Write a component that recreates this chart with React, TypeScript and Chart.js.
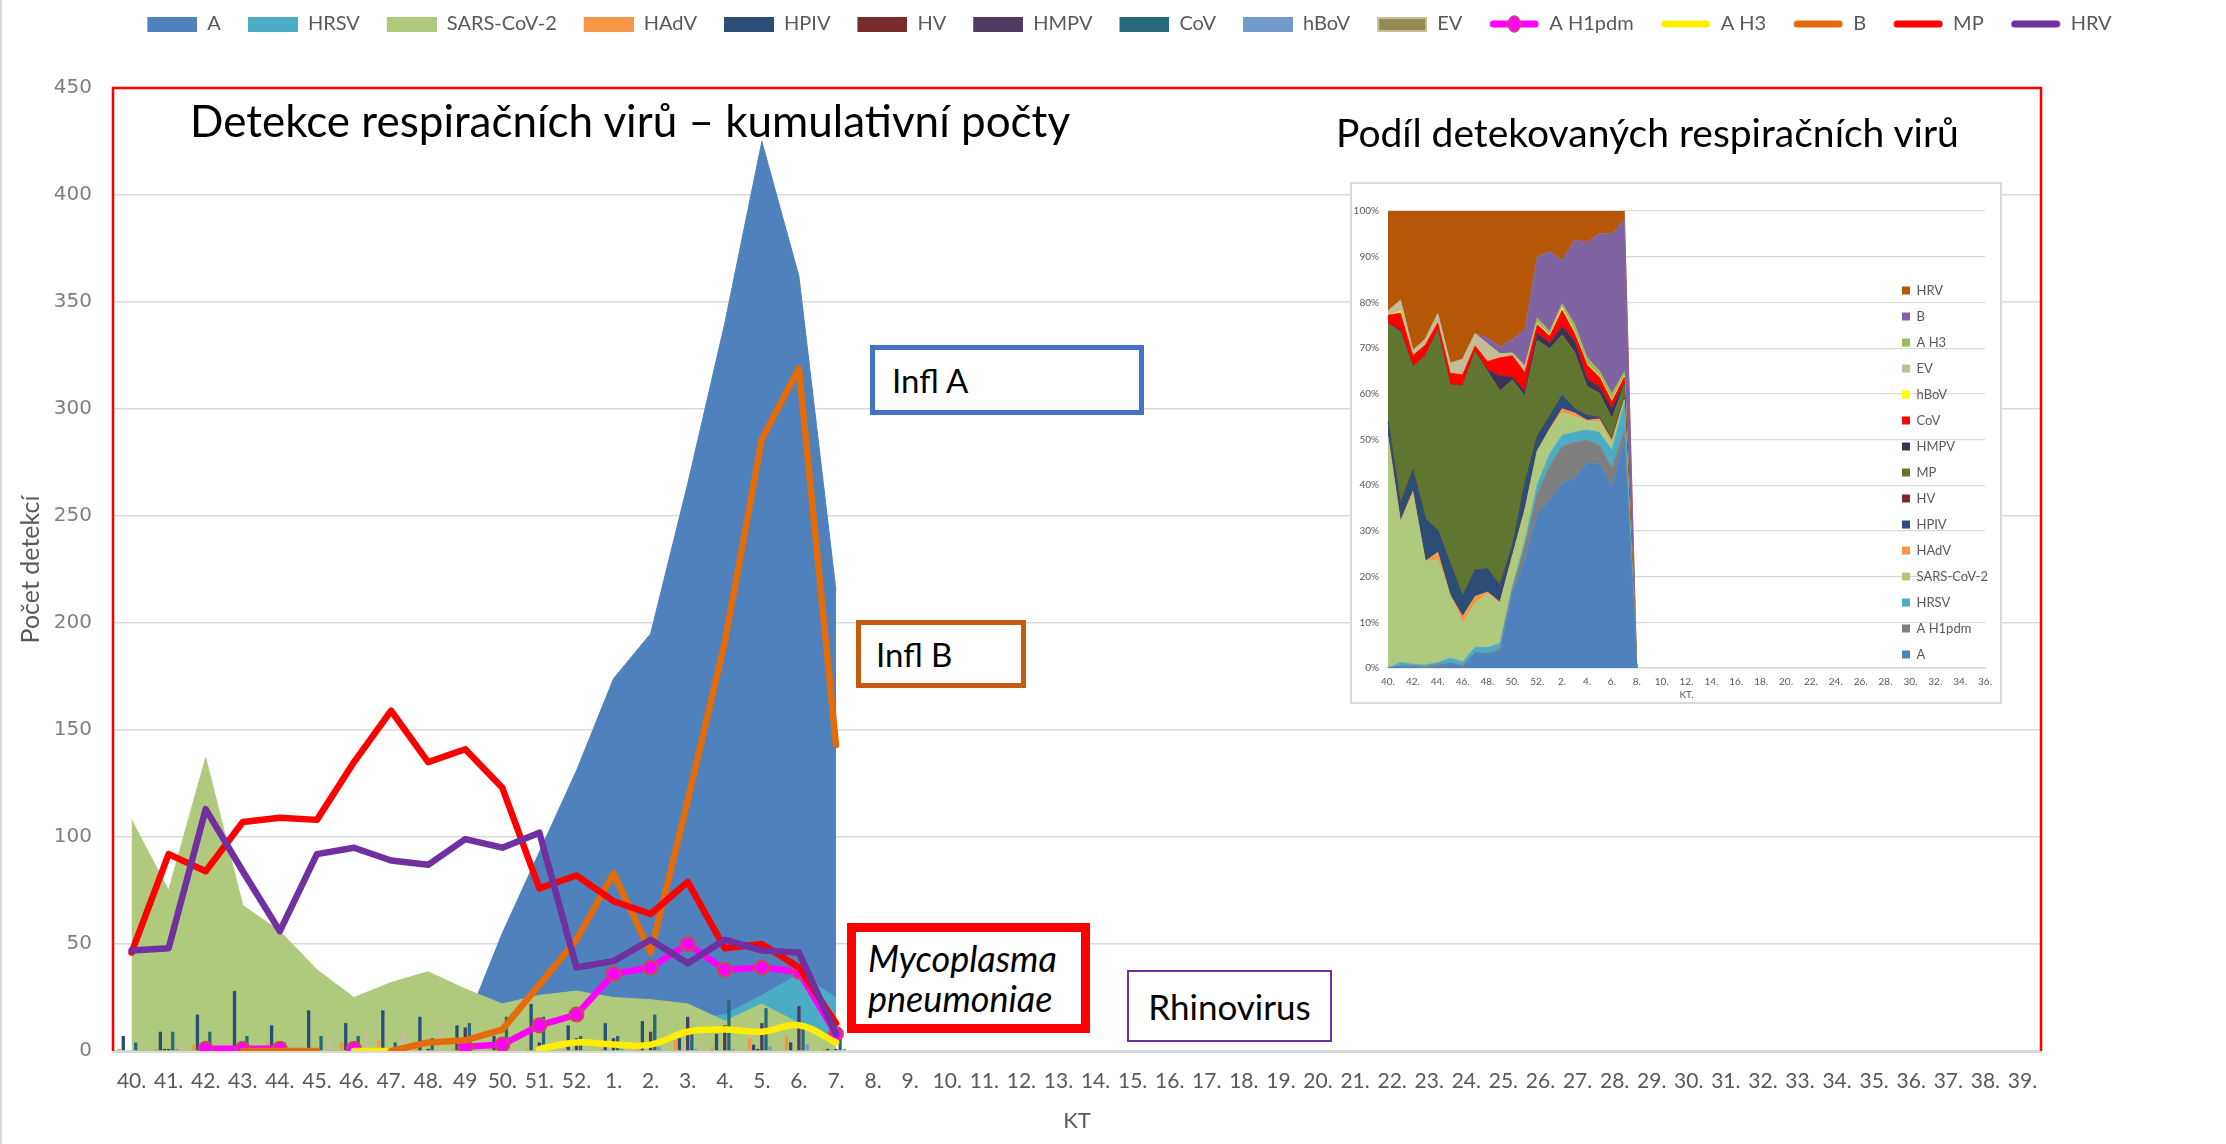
import React, { useEffect, useRef } from 'react';
import { Chart, registerables } from 'chart.js';

Chart.register(...registerables);

// ---------- Main chart data (weeks 40 .. 7 carry values) ----------
const weekLabels = [
  '40.', '41.', '42.', '43.', '44.', '45.', '46.', '47.', '48.', '49', '50.', '51.', '52.',
  '1.', '2.', '3.', '4.', '5.', '6.', '7.', '8.', '9.', '10.', '11.', '12.', '13.', '14.', '15.',
  '16.', '17.', '18.', '19.', '20.', '21.', '22.', '23.', '24.', '25.', '26.', '27.', '28.', '29.',
  '30.', '31.', '32.', '33.', '34.', '35.', '36.', '37.', '38.', '39.',
];

const valA = [0, 1, 1, 0, 1, 3, 1, 11, 10, 12, 55, 93, 131, 174, 195, 265, 340, 425, 362, 215];
const valHRSV = [0, 2, 1, 1, 1, 3, 2, 4, 4, 4, 2, 4, 8, 12, 12, 14, 17, 26, 36, 25];
const valSARS = [108, 75, 137, 68, 56, 38, 25, 32, 37, 29, 22, 26, 28, 25, 24, 22, 14, 22, 13, 3];
const valHAdV = [1, 1, 3, 0, 4, 0, 4, 5, 1, 1, 1, 1, 1, 1, 4, 5, 2, 6, 7, 1];
const valHPIV = [7, 9, 17, 28, 12, 19, 13, 19, 16, 12, 7, 22, 12, 13, 14, 6, 8, 3, 4, 1];
const valHV = [0, 1, 0, 0, 0, 0, 0, 0, 0, 1, 0, 0, 0, 0, 0, 0, 0, 1, 0, 0];
const valHMPV = [0, 1, 0, 0, 0, 0, 0, 0, 1, 11, 2, 4, 6, 6, 9, 16, 12, 13, 21, 1];
const valCoV = [4, 9, 9, 7, 4, 7, 7, 4, 6, 13, 16, 16, 7, 7, 17, 10, 24, 20, 13, 6];
const valHBoV = [0, 1, 0, 0, 0, 0, 0, 0, 0, 0, 0, 0, 0, 1, 2, 1, 1, 2, 3, 1];
const valEV = [2, 6, 4, 4, 5, 6, 10, 9, 12, 3, 2, 5, 2, 1, 2, 3, 1, 2, 1, 0];
const valAH1 = [null, null, 1, 1, 1, null, 1, null, null, 2, 3, 12, 17, 36, 39, 50, 38, 39, 37, 8];
const valAH3 = [null, null, null, null, null, null, 0, 0, null, null, null, 1, 4, 3, 3, 9, 10, 9, 12, 4];
const valB = [null, null, null, 0, 0, 0, null, 0, 4, 5, 10, 31, 52, 83, 46, 117, 191, 286, 319, 143];
const valMP = [46, 92, 84, 107, 109, 108, 135, 159, 135, 141, 123, 76, 82, 70, 64, 79, 48, 50, 39, 13];
const valHRV = [47, 48, 113, 84, 56, 92, 95, 89, 87, 99, 95, 102, 39, 42, 52, 41, 52, 47, 46, 8];

const yTicks = [0, 50, 100, 150, 200, 250, 300, 350, 400, 450];

// ---------- Inset (100 % stacked) ----------
const insetLabels = [
  '40.', '41.', '42.', '43.', '44.', '45.', '46.', '47.', '48.', '49.', '50.', '51.', '52.',
  '1.', '2.', '3.', '4.', '5.', '6.', '7.', '8.', '9.', '10.', '11.', '12.', '13.', '14.', '15.',
  '16.', '17.', '18.', '19.', '20.', '21.', '22.', '23.', '24.', '25.', '26.', '27.', '28.', '29.',
  '30.', '31.', '32.', '33.', '34.', '35.', '36.',
];
const insetNames = ['A', 'A H1pdm', 'HRSV', 'SARS-CoV-2', 'HAdV', 'HPIV', 'HV', 'MP', 'HMPV', 'CoV', 'hBoV', 'EV', 'A H3', 'B', 'HRV'];
const insetColors = ['#4F81BD', '#7F7F7F', '#4BACC6', '#AFC97D', '#F79646', '#2C4D75', '#772C2A', '#5F7530', '#3F3151', '#FF0000', '#FFFF00', '#C4BD97', '#9BBB59', '#8064A2', '#B65708'];
const insetSource = [valA, valAH1, valHRSV, valSARS, valHAdV, valHPIV, valHV, valMP, valHMPV, valCoV, valHBoV, valEV, valAH3, valB, valHRV];

const FONT = 'Lato';

function makeIcon(kind: 'box' | 'line' | 'marker', color: string, border?: string) {
  const c = document.createElement('canvas');
  c.width = 67;
  c.height = 20;
  const g = c.getContext('2d')!;
  if (kind === 'box') {
    g.fillStyle = color;
    g.fillRect(17, 3, 50, 15);
    if (border) {
      g.strokeStyle = border;
      g.lineWidth = 2;
      g.strokeRect(18, 4, 48, 13);
    }
  } else {
    g.strokeStyle = color;
    g.lineWidth = 7;
    g.lineCap = 'round';
    g.beginPath();
    g.moveTo(21, 10);
    g.lineTo(63, 10);
    g.stroke();
    if (kind === 'marker') {
      g.beginPath();
      g.ellipse(42, 10, 6, 8, 0, 0, Math.PI * 2);
      g.fillStyle = color;
      g.fill();
      g.lineWidth = 1.5;
      g.strokeStyle = border || '#C0504D';
      g.stroke();
    }
  }
  return c;
}

function buildMain(): any {
  const area = (label: string, data: any[], color: string, order: number) => ({
    type: 'line', label, data, order, backgroundColor: color, borderColor: color, borderWidth: 1,
    fill: 'origin', pointRadius: 0, tension: 0, _icon: makeIcon('box', color),
  });
  const bar = (label: string, data: any[], color: string, icon?: HTMLCanvasElement) => ({
    type: 'bar', label, data, order: 10, backgroundColor: color, borderWidth: 0,
    categoryPercentage: 0.78, barPercentage: 0.8, _icon: icon || makeIcon('box', color),
  });
  const line = (label: string, data: any[], color: string, order: number, extra: any = {}) => ({
    type: 'line', label, data, order, borderColor: color, backgroundColor: color, borderWidth: 6.5,
    fill: false, pointRadius: 0, tension: 0, borderCapStyle: 'round', borderJoinStyle: 'round',
    _icon: makeIcon(extra.pointRadius ? 'marker' : 'line', color), ...extra,
  });

  const datasets = [
    area('A', valA, '#4F81BD', 30),
    area('HRSV', valHRSV, '#4BACC6', 29),
    area('SARS-CoV-2', valSARS, '#AFC97D', 28),
    bar('HAdV', valHAdV, '#F79646'),
    bar('HPIV', valHPIV, '#2C4D75'),
    bar('HV', valHV, '#772C2A'),
    bar('HMPV', valHMPV, '#4D3B62'),
    bar('CoV', valCoV, '#276A7C'),
    bar('hBoV', valHBoV, '#729ACA'),
    bar('EV', valEV, '#C4BD97', makeIcon('box', '#948A54', '#C4BD97')),
    line('A H1pdm', valAH1, '#FF00FF', 5, {
      pointRadius: 7, pointBackgroundColor: '#FF00FF', pointBorderColor: '#C0504D', pointBorderWidth: 2,
    }),
    line('A H3', valAH3, '#FFEE00', 4, { tension: 0.4 }),
    line('B', valB, '#E36C09', 3),
    line('MP', valMP, '#FF0000', 2),
    line('HRV', valHRV, '#7030A0', 1),
  ];

  const tweaks = {
    id: 'mainTweaks',
    afterInit(chart: any) {
      const lg = chart.legend;
      const orig = lg.fit.bind(lg);
      lg.fit = function () { orig(); this.height = 84; };
    },
    afterLayout(chart: any) {
      const lg = chart.legend;
      lg.left += 8;
      lg.right += 8;
    },
    beforeDatasetsDraw(chart: any) {
      const { ctx, chartArea: a } = chart;
      ctx.save();
      ctx.strokeStyle = '#FF0000';
      ctx.lineWidth = 2.5;
      ctx.beginPath();
      ctx.moveTo(a.left, a.bottom);
      ctx.lineTo(a.left, a.top);
      ctx.lineTo(a.right, a.top);
      ctx.lineTo(a.right, a.bottom);
      ctx.stroke();
      ctx.restore();
    },
  };

  return {
    type: 'bar',
    data: { labels: weekLabels, datasets },
    plugins: [tweaks],
    options: {
      responsive: false,
      animation: false,
      layout: { padding: { top: 4, left: 0, right: 0, bottom: 0 } },
      plugins: {
        tooltip: { enabled: false },
        legend: {
          position: 'top',
          labels: {
            usePointStyle: true,
            pointStyleWidth: 67,
            boxHeight: 20,
            padding: 10,
            color: '#595959',
            font: { family: FONT, size: 20 },
            generateLabels: (chart: any) =>
              chart.data.datasets.map((ds: any, i: number) => ({
                text: ds.label,
                pointStyle: ds._icon,
                fillStyle: 'transparent',
                strokeStyle: 'transparent',
                lineWidth: 0,
                hidden: false,
                datasetIndex: i,
                fontColor: '#595959',
              })),
          },
        },
      },
      scales: {
        x: {
          offset: true,
          grid: { display: false, drawTicks: false },
          border: { color: '#D9D9D9', width: 3 },
          ticks: {
            autoSkip: false, maxRotation: 0, minRotation: 0, padding: 18,
            color: '#595959', font: { family: FONT, size: 21 },
          },
          title: {
            display: true, text: 'KT', color: '#595959',
            font: { family: FONT, size: 22 }, padding: { top: 0, bottom: 10 },
          },
          afterFit: (s: any) => { s.height = 93; },
        },
        y: {
          min: 0,
          max: 450,
          afterBuildTicks: (s: any) => { s.ticks = yTicks.map((v) => ({ value: v })); },
          ticks: { padding: 21, color: '#7F7F7F', font: { family: 'DejaVu Sans', size: 20 } },
          grid: { color: '#D9D9D9', lineWidth: 1.5, drawTicks: false },
          border: { display: false },
          title: {
            display: true, text: 'Počet detekcí', color: '#595959',
            font: { family: FONT, size: 25 }, padding: { top: 16, bottom: 0 },
          },
          afterFit: (s: any) => { s.width = 113; },
        },
        y2: {
          position: 'right',
          display: true,
          grid: { display: false, drawTicks: false },
          ticks: { display: false },
          border: { display: false },
          afterFit: (s: any) => { s.width = 185; },
        },
      },
    },
  };
}

function buildInset(): any {
  const n = 20;
  const totals: number[] = [];
  for (let i = 0; i < n; i++) {
    let s = 0;
    insetSource.forEach((arr) => { s += (arr[i] as number) || 0; });
    totals.push(s);
  }
  const datasets = insetNames.map((name, k) => {
    const src = insetSource[k];
    const pct: number[] = [];
    for (let i = 0; i < n; i++) pct.push((((src[i] as number) || 0) / totals[i]) * 100);
    pct.push(0); // week 8: no data yet
    return {
      label: name,
      data: pct,
      backgroundColor: insetColors[k],
      borderColor: insetColors[k],
      borderWidth: 0.8,
      pointRadius: 0,
      tension: 0,
      fill: k === 0 ? 'origin' : '-1',
    };
  });

  const tweaks = {
    id: 'insetTweaks',
    afterInit(chart: any) {
      const lg = chart.legend;
      const orig = lg.fit.bind(lg);
      lg.fit = function () { orig(); this.width = 13; };
    },
    afterLayout(chart: any) {
      const lg = chart.legend;
      lg.left = 537;
      lg.right = 648;
      lg.top = 87;
      lg.bottom = 518;
    },
  };

  return {
    type: 'line',
    data: { labels: insetLabels, datasets },
    plugins: [tweaks],
    options: {
      responsive: false,
      animation: false,
      layout: { padding: { top: 27, left: 0, right: 0, bottom: 0 } },
      plugins: {
        tooltip: { enabled: false },
        legend: {
          position: 'right',
          align: 'start',
          reverse: true,
          labels: {
            boxWidth: 8,
            boxHeight: 8,
            padding: 13,
            color: '#595959',
            font: { family: FONT, size: 13 },
            generateLabels: (chart: any) =>
              chart.data.datasets.map((ds: any, i: number) => ({
                text: ds.label,
                fillStyle: ds.backgroundColor,
                strokeStyle: ds.backgroundColor,
                lineWidth: 0,
                hidden: false,
                datasetIndex: i,
                fontColor: '#595959',
              })),
          },
        },
      },
      scales: {
        x: {
          offset: false,
          grid: { display: false, drawTicks: false },
          border: { color: '#D9D9D9', width: 1.5 },
          ticks: {
            autoSkip: false, maxRotation: 0, minRotation: 0, padding: 8,
            color: '#595959', font: { family: FONT, size: 10 },
            callback: (_v: any, i: number) => (i % 2 === 0 ? insetLabels[i] : ''),
          },
          title: {
            display: true, text: 'KT.', color: '#595959',
            font: { family: FONT, size: 10 }, padding: { top: 0, bottom: 1 },
          },
          afterFit: (s: any) => { s.height = 34; },
        },
        y: {
          stacked: true,
          min: 0,
          max: 100,
          ticks: {
            stepSize: 10, padding: 9, color: '#595959', font: { family: FONT, size: 10 },
            callback: (v: any) => `${v}%`,
          },
          grid: { color: '#D9D9D9', lineWidth: 1.2, drawTicks: false },
          border: { display: false },
          afterFit: (s: any) => { s.width = 36; },
        },
      },
    },
  };
}

const boxBase: React.CSSProperties = {
  position: 'absolute',
  boxSizing: 'border-box',
  background: '#FFFFFF',
  display: 'flex',
  alignItems: 'center',
  fontFamily: FONT,
  fontSize: 33,
  color: '#000',
  whiteSpace: 'nowrap',
};

export default function App() {
  const mainRef = useRef<HTMLCanvasElement>(null);
  const insetRef = useRef<HTMLCanvasElement>(null);

  useEffect(() => {
    const c1 = new Chart(mainRef.current as HTMLCanvasElement, buildMain());
    const c2 = new Chart(insetRef.current as HTMLCanvasElement, buildInset());
    return () => {
      c1.destroy();
      c2.destroy();
    };
  }, []);

  return (
    <div style={{ position: 'fixed', left: 0, top: 0, width: 2226, height: 1144, background: '#FFFFFF', overflow: 'hidden' }}>
      <canvas ref={mainRef} width={2226} height={1144} style={{ position: 'absolute', left: 0, top: 0, width: 2226, height: 1144 }} />
      <div style={{ position: 'absolute', left: 0, top: 0, width: 2, height: 1144, background: '#D9D9D9' }} />

      <div style={{ position: 'absolute', left: 190, top: 95, fontFamily: FONT, fontSize: 44, lineHeight: '50px', color: '#000', whiteSpace: 'nowrap' }}>
        Detekce respiračních virů – kumulativní počty
      </div>
      <div style={{ position: 'absolute', left: 1336, top: 109, fontFamily: FONT, fontSize: 39, lineHeight: '46px', color: '#000', whiteSpace: 'nowrap' }}>
        Podíl detekovaných respiračních virů
      </div>

      <div style={{ position: 'absolute', left: 1350, top: 182, width: 652, height: 522, border: '2px solid #D9D9D9', boxSizing: 'border-box', background: '#FFFFFF' }}>
        <canvas ref={insetRef} width={648} height={518} style={{ display: 'block', width: 648, height: 518 }} />
      </div>

      <div style={{ ...boxBase, left: 870, top: 345, width: 274, height: 70, border: '5px solid #4472C4', paddingLeft: 17 }}>Infl A</div>
      <div style={{ ...boxBase, left: 856, top: 620, width: 170, height: 68, border: '5px solid #C55A11', paddingLeft: 15 }}>Infl B</div>
      <div style={{ ...boxBase, left: 847, top: 923, width: 243, height: 110, border: '9px solid #FF0000', paddingLeft: 12, fontStyle: 'italic', fontSize: 36, lineHeight: '40px' }}>
        <div>Mycoplasma<br />pneumoniae</div>
      </div>
      <div style={{ ...boxBase, left: 1127, top: 970, width: 205, height: 72, border: '2px solid #7030A0', justifyContent: 'center', fontSize: 35 }}>Rhinovirus</div>
    </div>
  );
}
